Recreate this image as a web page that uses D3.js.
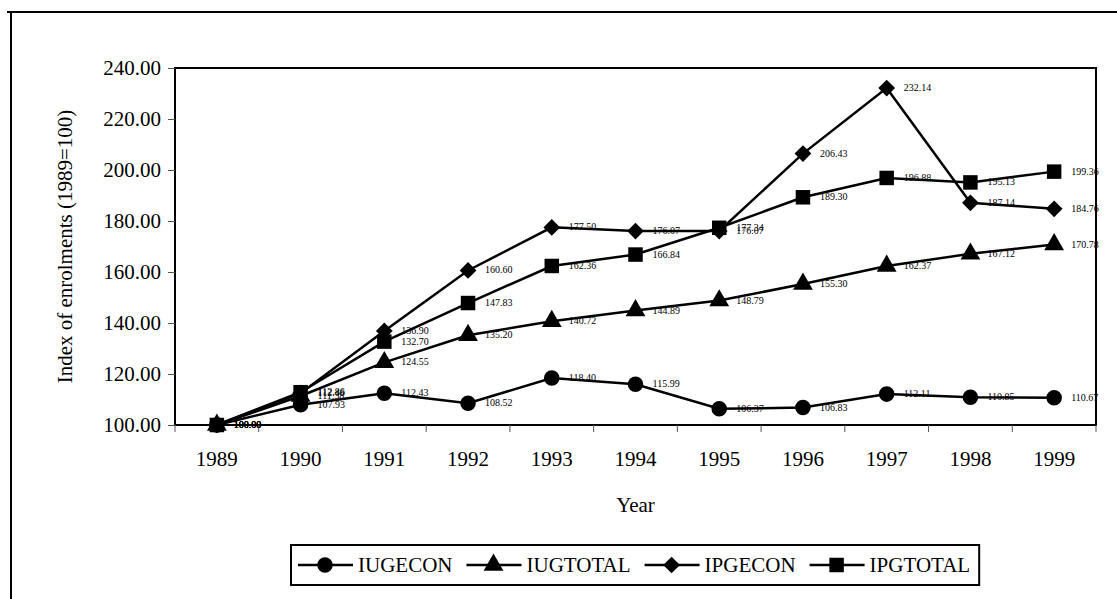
<!DOCTYPE html>
<html>
<head>
<meta charset="utf-8">
<script src="https://cdn.jsdelivr.net/npm/d3@7"></script>
<style>
  body { margin: 0; background: #fff; }
  svg { display: block; }
  text { font-family: 'Liberation Serif', 'Times New Roman', serif; fill: #000; }
</style>
</head>
<body>
<div id="chart"></div>
<script>
const width = 1117;
const height = 599;

const years = ['1989', '1990', '1991', '1992', '1993', '1994', '1995', '1996', '1997', '1998', '1999'];
const yTicks = [100, 120, 140, 160, 180, 200, 220, 240];

const iugecon = [100.0, 107.93, 112.43, 108.52, 118.4, 115.99, 106.37, 106.83, 112.11, 110.85, 110.67];
const iugtotal = [100.0, 111.38, 124.55, 135.2, 140.72, 144.89, 148.79, 155.3, 162.37, 167.12, 170.78];
const ipgecon = [100.0, 112.46, 136.9, 160.6, 177.5, 176.07, 176.07, 206.43, 232.14, 187.14, 184.76];
const ipgtotal = [100.0, 112.86, 132.7, 147.83, 162.36, 166.84, 177.34, 189.3, 196.88, 195.13, 199.36];

const seriesNames = ['IUGECON', 'IUGTOTAL', 'IPGECON', 'IPGTOTAL'];
const seriesValues = [iugecon, iugtotal, ipgecon, ipgtotal];
// diamond is drawn as a square turned 45 degrees
const seriesSymbols = [d3.symbolCircle, d3.symbolTriangle, d3.symbolSquare, d3.symbolSquare];
const symbolSizes = [190, 170, 140, 210];
const symbolTurn = [0, 0, 45, 0];

const plot = { left: 175, right: 1096, top: 68, bottom: 425 };

const svg = d3
    .select('#chart')
    .append('svg')
    .attr('width', width)
    .attr('height', height);

// outer frame (top and left edges only)
svg.append('line')
    .attr('x1', 7).attr('y1', 12).attr('x2', width).attr('y2', 12)
    .attr('stroke', '#000').attr('stroke-width', 2);
svg.append('line')
    .attr('x1', 11).attr('y1', 12).attr('x2', 11).attr('y2', height)
    .attr('stroke', '#000').attr('stroke-width', 2);

const x = d3.scaleBand().domain(years).range([plot.left, plot.right]);
const y = d3.scaleLinear().domain([100, 240]).range([plot.bottom, plot.top]);
const cx = (d) => x(d) + x.bandwidth() / 2;

// plot border
svg.append('rect')
    .attr('x', plot.left)
    .attr('y', plot.top)
    .attr('width', plot.right - plot.left)
    .attr('height', plot.bottom - plot.top)
    .attr('fill', 'none')
    .attr('stroke', '#000')
    .attr('stroke-width', 2);

// y axis
const yAxis = svg
    .append('g')
    .attr('transform', `translate(${plot.left},0)`)
    .call(d3.axisLeft(y).tickValues(yTicks).tickFormat(d3.format('.2f')).tickSize(7).tickPadding(7));
yAxis.select('.domain').remove();
yAxis.selectAll('line').attr('stroke', '#555');
yAxis.selectAll('text')
    .attr('font-size', 21)
    .attr('fill', '#000');

// x axis: labels at band centers, ticks at band edges
const xAxis = svg
    .append('g')
    .attr('transform', `translate(0,${plot.bottom})`)
    .call(d3.axisBottom(x).tickSize(0).tickPadding(26));
xAxis.select('.domain').remove();
xAxis.selectAll('text')
    .attr('font-size', 21)
    .attr('fill', '#000');

svg.append('g')
    .selectAll('line')
    .data(years.map((d) => x(d)).concat([plot.right]))
    .enter()
    .append('line')
    .attr('x1', (d) => d)
    .attr('x2', (d) => d)
    .attr('y1', plot.bottom)
    .attr('y2', plot.bottom + 7)
    .attr('stroke', '#555');

// axis titles
svg.append('text')
    .attr('transform', `translate(72,${(plot.top + plot.bottom) / 2}) rotate(-90)`)
    .attr('text-anchor', 'middle')
    .attr('font-size', 21)
    .text('Index of enrolments (1989=100)');

svg.append('text')
    .attr('x', (plot.left + plot.right) / 2)
    .attr('y', 512)
    .attr('text-anchor', 'middle')
    .attr('font-size', 21)
    .text('Year');

// series
const line = d3
    .line()
    .x((d) => cx(d.year))
    .y((d) => y(d.value));

seriesNames.forEach((name, i) => {
    const pts = years.map((yr, j) => ({ year: yr, value: seriesValues[i][j] }));
    const g = svg.append('g').attr('class', 'series-' + name);

    g.append('path')
        .datum(pts)
        .attr('d', line)
        .attr('fill', 'none')
        .attr('stroke', '#000')
        .attr('stroke-width', 2.5);

    g.selectAll('path.marker')
        .data(pts)
        .enter()
        .append('path')
        .attr('class', 'marker')
        .attr('d', d3.symbol().type(seriesSymbols[i]).size(symbolSizes[i]))
        .attr('transform', (d) => `translate(${cx(d.year)},${y(d.value)}) rotate(${symbolTurn[i]})`)
        .attr('fill', '#000');

    g.selectAll('text')
        .data(pts)
        .enter()
        .append('text')
        .attr('x', (d) => cx(d.year) + 17)
        .attr('y', (d) => y(d.value) + 3)
        .attr('font-size', 10)
        .attr('fill', '#222')
        .text((d) => d.value.toFixed(2));
});

// legend
const legend = svg.append('g');
const legendBox = legend
    .append('rect')
    .attr('y', 545)
    .attr('height', 40)
    .attr('fill', '#fff')
    .attr('stroke', '#000')
    .attr('stroke-width', 2);

let lx = 298;
const ly = 565;
seriesNames.forEach((name, i) => {
    legend.append('line')
        .attr('x1', lx).attr('x2', lx + 55)
        .attr('y1', ly).attr('y2', ly)
        .attr('stroke', '#000').attr('stroke-width', 2.5);
    legend.append('path')
        .attr('d', d3.symbol().type(seriesSymbols[i]).size(symbolSizes[i]))
        .attr('transform', `translate(${lx + 27},${ly}) rotate(${symbolTurn[i]})`)
        .attr('fill', '#000');
    const t = legend.append('text')
        .attr('x', lx + 60)
        .attr('y', ly + 7)
        .attr('font-size', 21)
        .text(name);
    lx += 60 + t.node().getComputedTextLength() + 14;
});
legendBox.attr('x', 291).attr('width', lx - 291 - 5);
</script>
</body>
</html>
